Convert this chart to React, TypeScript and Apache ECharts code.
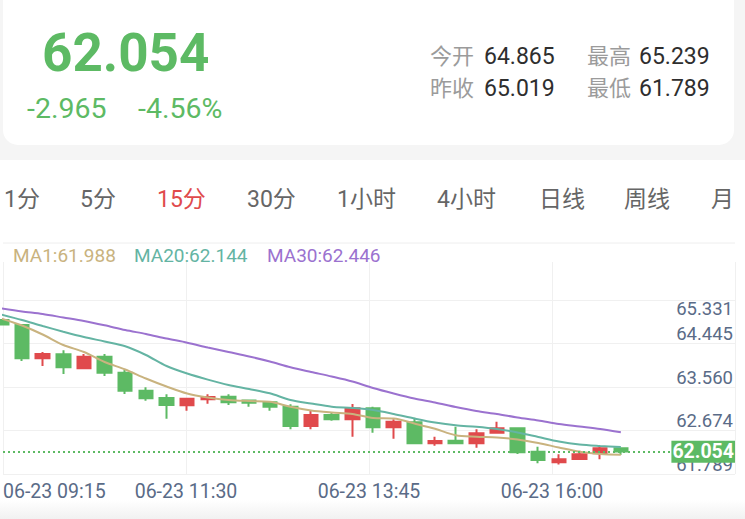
import React, { useEffect, useRef } from "react";
import * as echarts from "echarts";

// ---------- data ----------
const candleTimes = [
  "06-23 09:15", "06-23 09:30", "06-23 09:45", "06-23 10:00", "06-23 10:15", "06-23 10:30",
  "06-23 10:45", "06-23 11:00", "06-23 11:15", "06-23 11:30", "06-23 11:45", "06-23 12:00",
  "06-23 12:15", "06-23 12:30", "06-23 12:45", "06-23 13:00", "06-23 13:15", "06-23 13:30",
  "06-23 13:45", "06-23 14:00", "06-23 14:15", "06-23 14:30", "06-23 14:45", "06-23 15:00",
  "06-23 15:15", "06-23 15:30", "06-23 15:45", "06-23 16:00", "06-23 16:15", "06-23 16:30",
  "06-23 16:45",
];
const opens = [64.732, 64.63, 63.952, 64.033, 63.748, 63.985, 63.659, 63.292, 63.143, 62.995, 63.117, 63.17, 63.092, 63.056, 62.966, 62.573, 62.797, 62.71, 62.934, 62.547, 62.648, 62.221, 62.274, 62.221, 62.437, 62.526, 62.05, 61.834, 61.901, 62.017, 62.119];
const closes = [64.64, 63.952, 64.04, 63.769, 63.985, 63.659, 63.292, 63.137, 63.001, 63.129, 63.164, 63.056, 63.046, 62.966, 62.573, 62.797, 62.71, 62.934, 62.547, 62.661, 62.221, 62.268, 62.221, 62.424, 62.526, 62.037, 61.881, 61.895, 61.997, 62.119, 62.054];
const lows = [64.63, 63.897, 63.795, 63.632, 63.74, 63.591, 63.225, 63.088, 62.722, 62.885, 63.027, 63.001, 62.966, 62.885, 62.506, 62.506, 62.681, 62.355, 62.437, 62.314, 62.2, 62.172, 62.207, 62.131, 62.43, 62.003, 61.813, 61.789, 61.881, 61.895, 61.982];
const highs = [64.742, 64.64, 64.08, 64.115, 64.04, 64.04, 63.714, 63.361, 63.219, 63.143, 63.219, 63.219, 63.103, 63.062, 63.015, 62.899, 62.844, 63.021, 62.966, 62.71, 62.742, 62.355, 62.559, 62.506, 62.661, 62.532, 62.152, 61.997, 62.07, 62.152, 62.131];
const ma1 = [64.763, 64.62, 64.437, 64.223, 64.08, 63.877, 63.724, 63.541, 63.378, 63.235, 63.154, 63.103, 63.082, 63.068, 62.964, 62.889, 62.848, 62.818, 62.736, 62.726, 62.624, 62.516, 62.384, 62.355, 62.339, 62.298, 62.227, 62.135, 62.05, 62.003, 61.988];
const ma20 = [64.844, 64.732, 64.61, 64.494, 64.386, 64.294, 64.196, 64.019, 63.795, 63.642, 63.518, 63.408, 63.327, 63.239, 63.103, 63.031, 62.966, 62.94, 62.899, 62.818, 62.726, 62.644, 62.587, 62.557, 62.512, 62.441, 62.349, 62.257, 62.196, 62.166, 62.144];
const ma30 = [64.966, 64.905, 64.854, 64.783, 64.712, 64.624, 64.528, 64.447, 64.355, 64.27, 64.172, 64.08, 63.989, 63.887, 63.769, 63.673, 63.581, 63.479, 63.347, 63.235, 63.133, 63.052, 62.96, 62.879, 62.818, 62.746, 62.685, 62.614, 62.563, 62.512, 62.446];

const yTickLabels = ["61.789", "62.674", "63.560", "64.445", "65.331"];
const xTickLabels = ["06-23 09:15", "06-23 11:30", "06-23 13:45", "06-23 16:00", ""];

const lastPrice = "62.054";
const priceChange = "-2.965";
const priceChangePct = "-4.56%";
const statLabels = ["今开", "最高", "昨收", "最低"];
const statValues = ["64.865", "65.239", "65.019", "61.789"];
const periodTabs = ["1分", "5分", "15分", "30分", "1小时", "4小时", "日线", "周线", "月"];
const activeTab = 2;
const maNames = ["MA1", "MA20", "MA30"];

// ---------- style ----------
const FONT = 'Roboto, "Noto Sans CJK SC", sans-serif';
const RED = "#e04a4c";
const GREEN = "#5dba64";
const MA_COLORS = ["#c9b37f", "#64b4a3", "#9b72cf"];
const AXIS_TEXT = "#5a6b87";
const GRID_LINE = "#f0f0f0";

const tabLefts = [4, 80, 157, 247, 337, 437, 539, 624, 711];

function buildOption() {
  const candleData = opens.map((o, i) => [i, o, closes[i], lows[i], highs[i]]);
  const maSeries = [ma1, ma20, ma30];
  const lastClose = closes[closes.length - 1];

  const graphics: any[] = [
    { type: "rect", z: -10, shape: { x: 0, y: 0, width: 745, height: 160 }, style: { fill: "#f5f5f5" } },
    { type: "rect", z: -9, shape: { x: 3, y: -20, width: 731, height: 165, r: 15 }, style: { fill: "#ffffff" } },
    {
      type: "rect", z: -9, shape: { x: 0, y: 500, width: 745, height: 19 },
      style: { fill: new echarts.graphic.LinearGradient(0, 0, 0, 1, [{ offset: 0, color: "#ffffff" }, { offset: 1, color: "#f1f1f1" }]) },
    },
    { type: "text", x: 42, y: 53, style: { text: lastPrice, fill: GREEN, fontSize: 53, fontWeight: "bold", fontFamily: FONT, verticalAlign: "middle" } },
    { type: "text", x: 27, y: 108, style: { text: priceChange, fill: GREEN, fontSize: 28.5, fontFamily: FONT, verticalAlign: "middle" } },
    { type: "text", x: 138, y: 108, style: { text: priceChangePct, fill: GREEN, fontSize: 28.5, fontFamily: FONT, verticalAlign: "middle" } },
    { type: "line", shape: { x1: 3, y1: 243, x2: 735, y2: 243 }, style: { stroke: "#eeeeee", lineWidth: 1 } },
  ];
  const statPos = [[430, 484, 56], [587, 639, 56], [430, 484, 88], [587, 639, 88]];
  statLabels.forEach((lab, k) => {
    const [lx, vx, y] = statPos[k];
    graphics.push({ type: "text", x: lx, y, style: { text: lab, fill: "#9b9b9b", fontSize: 22, fontFamily: FONT, verticalAlign: "middle" } });
    graphics.push({ type: "text", x: vx, y, style: { text: statValues[k], fill: "#2e2e2e", fontSize: 23, fontFamily: FONT, verticalAlign: "middle" } });
  });
  periodTabs.forEach((t, k) => {
    graphics.push({
      type: "text", x: tabLefts[k], y: 199,
      style: { text: t, fill: k === activeTab ? RED : "#666666", fontSize: 23, fontFamily: FONT, verticalAlign: "middle" },
    });
  });
  const legendLefts = [13, 134, 267];
  maNames.forEach((n, k) => {
    const arr = maSeries[k];
    graphics.push({
      type: "text", x: legendLefts[k], y: 255,
      style: { text: `${n}:${arr[arr.length - 1].toFixed(3)}`, fill: MA_COLORS[k], fontSize: 19, fontFamily: FONT, verticalAlign: "middle" },
    });
  });

  return {
    animation: false,
    backgroundColor: "#ffffff",
    textStyle: { fontFamily: FONT },
    grid: [
      { left: 3, right: 10, top: 262, bottom: 45, outerBoundsMode: "none" },
      { left: 3, right: 10, top: 300, bottom: 45, outerBoundsMode: "none" },
      { left: 3, right: 10, top: 300, bottom: 45, outerBoundsMode: "none" },
    ],
    xAxis: [
      {
        gridIndex: 0, type: "value", min: 0, max: 4, interval: 1,
        axisLine: { show: false }, axisTick: { show: false },
        splitLine: { show: true, lineStyle: { color: GRID_LINE, width: 1 } },
        axisLabel: {
          show: true, margin: 8, color: AXIS_TEXT, fontSize: 19.5, fontFamily: FONT,
          alignMinLabel: "left",
          formatter: (v: number) => xTickLabels[Math.round(v)] ?? "",
        },
      },
      { gridIndex: 1, type: "value", min: 0, max: 4, show: false },
      { gridIndex: 2, type: "value", min: 0.0799, max: 35.528, show: false },
    ],
    yAxis: [
      { gridIndex: 0, type: "value", min: 0, max: 4, show: false },
      {
        gridIndex: 1, type: "value", min: 0, max: 4, interval: 1, position: "right",
        axisLine: { show: false }, axisTick: { show: false },
        splitLine: { show: true, lineStyle: { color: GRID_LINE, width: 1 } },
        axisLabel: {
          inside: true, margin: 2, color: AXIS_TEXT, fontSize: 18.5, fontFamily: FONT,
          verticalAlign: "bottom", showMaxLabel: false,
          formatter: (v: number) => yTickLabels[Math.round(v)] ?? "",
        },
      },
      {
        gridIndex: 1, type: "value", min: 0, max: 4, interval: 1, position: "right",
        axisLine: { show: false }, axisTick: { show: false }, splitLine: { show: false },
        axisLabel: {
          inside: true, margin: 2, color: AXIS_TEXT, fontSize: 18.5, fontFamily: FONT,
          verticalAlign: "top", showMinLabel: false,
          formatter: (v: number) => (Math.round(v) === 4 ? yTickLabels[4] : ""),
        },
      },
      { gridIndex: 2, type: "value", min: 61.5955, max: 65.1393, show: false, scale: true },
    ],
    series: [
      {
        type: "candlestick", name: "K", xAxisIndex: 2, yAxisIndex: 3,
        data: candleData, barWidth: 14, clip: true,
        itemStyle: { color: RED, color0: GREEN, borderColor: RED, borderColor0: GREEN, borderWidth: 2 },
        markLine: {
          silent: true, symbol: ["none", "none"], animation: false,
          data: [{ yAxis: lastClose }],
          lineStyle: { color: GREEN, type: [2, 3], width: 2 },
          label: {
            show: true, position: "insideEnd", distance: 0,
            formatter: () => lastClose.toFixed(3),
            color: "#ffffff", backgroundColor: GREEN, fontSize: 19.5, fontWeight: "bold",
            fontFamily: FONT, padding: [1, 1, 1, 1], lineHeight: 20,
          },
          emphasis: { disabled: true },
        },
      },
      ...maSeries.map((arr, k) => ({
        type: "line", name: maNames[k], xAxisIndex: 2, yAxisIndex: 3,
        data: arr.map((v, i) => [i, v]), showSymbol: false, symbol: "none", smooth: 0.3,
        lineStyle: { color: MA_COLORS[k], width: 2 }, clip: true, z: 3,
      })),
    ],
    graphic: { elements: graphics },
  };
}

export default function App() {
  const ref = useRef<HTMLDivElement>(null);
  useEffect(() => {
    const chart = echarts.init(ref.current!, null, { renderer: "svg" });
    chart.setOption(buildOption() as any);
    return () => chart.dispose();
  }, []);
  return <div ref={ref} style={{ position: "fixed", left: 0, top: 0, width: 745, height: 519 }} />;
}
